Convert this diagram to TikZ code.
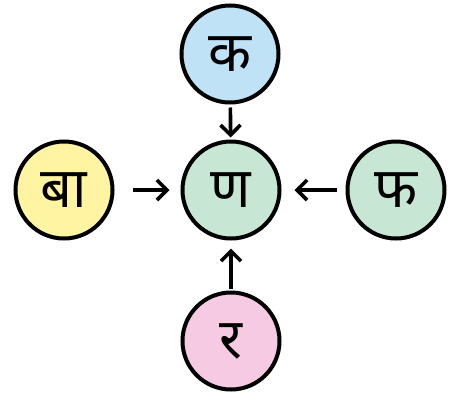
\documentclass[tikz,border=0pt]{standalone}
\usepackage{fontspec}
\newfontfamily\devfont[Script=Devanagari]{Noto Sans}
\usetikzlibrary{arrows.meta}
\definecolor{skyfill}{RGB}{192, 226, 246}
\definecolor{mintfill}{RGB}{200, 230, 212}
\definecolor{lemonfill}{RGB}{254, 244, 162}
\definecolor{rosefill}{RGB}{246, 202, 226}

\begin{document}
\begin{tikzpicture}[x=1pt, y=-1pt,
        letter/.style={circle, draw=black, line width=4pt, minimum size=97pt, inner sep=0pt,
            font=\devfont\fontsize{56}{60}\selectfont},
        link/.style={line width=3.6pt, -{Straight Barb[length=10pt, width=20pt, line width=3.6pt]}}]
        \useasboundingbox (0,0) rectangle (453,394);

        \node[letter, fill=mintfill] (centre) at (231, 190) {ण};
        \node[letter, fill=skyfill] (top) at (230, 54) {क};
        \node[letter, fill=lemonfill] (left) at (64, 190) {बा};
        \node[letter, fill=mintfill] (right) at (396, 190) {फ};
        \node[letter, fill=rosefill] (bottom) at (231, 341) {र};

        \draw[link, shorten <=3pt, shorten >=2pt] (top) -- (centre);
        \draw[link, shorten <=18pt, shorten >=11pt] (left) -- (centre);
        \draw[link, shorten <=9pt, shorten >=13pt] (right) -- (centre);
        \draw[link, shorten <=2pt, shorten >=8pt] (bottom) -- (centre);

    \end{tikzpicture}
\end{document}
